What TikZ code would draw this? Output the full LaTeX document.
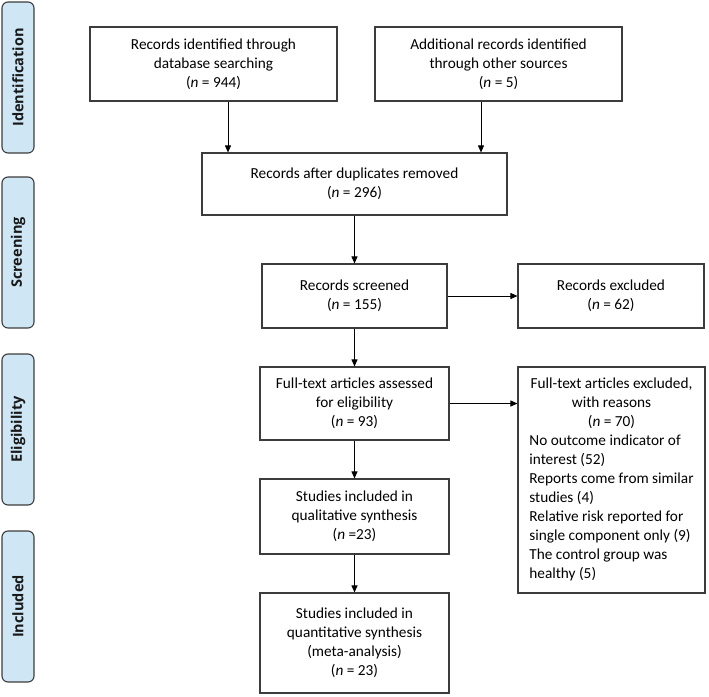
\documentclass[tikz,border=0pt]{standalone}
\usepackage{fontspec}
\setmainfont{Carlito}
\newfontfamily\sidefont{Open Sans}
\usetikzlibrary{arrows.meta}
\definecolor{sidefill}{RGB}{207,230,245}
\definecolor{edge}{RGB}{60,60,60}
\tikzset{
  box/.style={draw=edge, line width=1.1pt, fill=white, align=center, inner sep=0pt,
    font=\fontsize{15.3}{19}\selectfont},
  sidebox/.style={draw=edge, line width=1.1pt, fill=sidefill, rounded corners=6pt},
  sidelabel/.style={rotate=90, font=\sidefont\bfseries\fontsize{14.5}{17}\selectfont, text=black!90},
  arr/.style={draw=black, line width=0.9pt, -{Triangle[length=7pt,width=6pt]}}
}
\begin{document}
\begin{tikzpicture}[x=1pt,y=-1pt]
\useasboundingbox (0,0) rectangle (709,696);
% side bars
\draw[sidebox] (2,2) rectangle (34,153);
\node[sidelabel] (sid) at (18,77.5) {Identification};
\draw[sidebox] (2,177) rectangle (34,328);
\node[sidelabel] (sscr) at (18,252.5) {Screening};
\draw[sidebox] (2,354) rectangle (34,505);
\node[sidelabel] (selig) at (18,429.5) {Eligibility};
\draw[sidebox] (2,531) rectangle (34,682);
\node[sidelabel] (sinc) at (18,606.5) {Included};
% boxes
\node[box, minimum width=247pt, minimum height=74pt] (b1) at (213.5,64)
  {Records identified through\\database searching\\(\textit{n} = 944)};
\node[box, minimum width=247pt, minimum height=74pt] (b2) at (498.5,64)
  {Additional records identified\\through other sources\\(\textit{n} = 5)};
\node[box, minimum width=305pt, minimum height=62pt] (b3) at (354.5,184)
  {Records after duplicates removed\\(\textit{n} = 296)};
\node[box, minimum width=185pt, minimum height=64pt] (b4) at (354.5,296)
  {Records screened\\(\textit{n} = 155)};
\node[box, minimum width=186pt, minimum height=64pt] (ex1) at (611,296)
  {Records excluded\\(\textit{n} = 62)};
\node[box, minimum width=189pt, minimum height=73pt] (b5) at (354.5,403.5)
  {Full-text articles assessed\\for eligibility\\(\textit{n} = 93)};
\node[box, minimum width=187pt, minimum height=226pt] (ex2) at (611.5,480)
  {\begin{tabular}{@{}l@{}}
   \multicolumn{1}{@{}c@{}}{Full-text articles excluded,}\\
   \multicolumn{1}{@{}c@{}}{with reasons}\\
   \multicolumn{1}{@{}c@{}}{(\textit{n} = 70)}\\
   No outcome indicator of\\
   interest (52)\\
   Reports come from similar\\
   studies (4)\\
   Relative risk reported for\\
   single component only (9)\\
   The control group was\\
   healthy (5)
   \end{tabular}};
\node[box, minimum width=189pt, minimum height=75pt] (b6) at (354.5,516.5)
  {Studies included in\\qualitative synthesis\\(\textit{n} =23)};
\node[box, minimum width=189pt, minimum height=100pt] (b7) at (354.5,643)
  {Studies included in\\quantitative synthesis\\(meta-analysis)\\(\textit{n} = 23)};
% arrows
\coordinate (ca) at (228,0);
\coordinate (cb) at (481,0);
\draw[arr] (b1.south -| ca) -- (b3.north -| ca);
\draw[arr] (b2.south -| cb) -- (b3.north -| cb);
\draw[arr] (b3) -- (b4);
\draw[arr] (b4) -- (ex1);
\draw[arr] (b4) -- (b5);
\draw[arr] (b5) -- (ex2.west |- b5);
\draw[arr] (b5) -- (b6);
\draw[arr] (b6) -- (b7);
\end{tikzpicture}
\end{document}
